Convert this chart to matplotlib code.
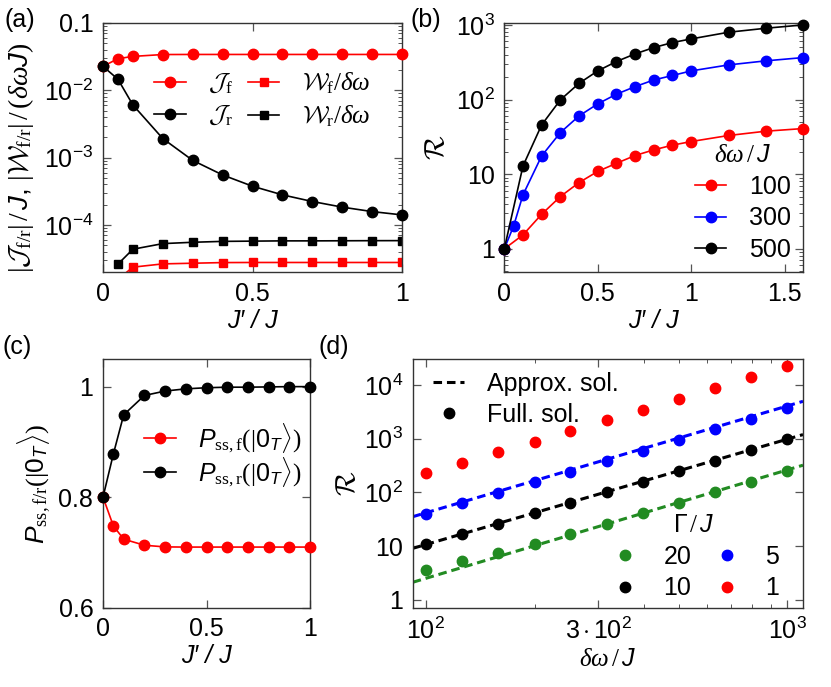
import numpy as np
import matplotlib
matplotlib.use("Agg")
import matplotlib.pyplot as plt
from matplotlib.ticker import LogLocator, NullFormatter

plt.rcParams['font.family'] = ['Liberation Sans', 'DejaVu Sans']
plt.rcParams['font.size'] = 18
plt.rcParams['mathtext.fontset'] = 'custom'
plt.rcParams['mathtext.rm'] = 'Liberation Serif'
plt.rcParams['mathtext.it'] = 'Liberation Serif:italic'
plt.rcParams['mathtext.bf'] = 'Liberation Sans:italic'
plt.rcParams['mathtext.sf'] = 'Liberation Sans'
plt.rcParams['mathtext.cal'] = 'cmsy10'
plt.rcParams['mathtext.fallback'] = 'cm'

# ---- panel (a) data ----
jp_a = [0, 0.05, 0.1, 0.2, 0.3, 0.4, 0.5, 0.6, 0.7, 0.8, 0.9, 1.0]
J_f = [0.0227, 0.0295, 0.0319, 0.0340, 0.0341, 0.0341, 0.0341, 0.0341, 0.0341, 0.0341, 0.0341, 0.0341]
J_r = [0.0227, 0.0146, 0.00606, 0.00192, 0.00091, 0.000553, 0.000376, 0.00028,
       0.000223, 0.000184, 0.000158, 0.000141]
jp_w = [0.05, 0.1, 0.2, 0.3, 0.4, 0.5, 0.6, 0.7, 0.8, 0.9, 1.0]
W_f = [1.56e-5, 2.36e-5, 2.64e-5, 2.70e-5, 2.76e-5, 2.77e-5, 2.77e-5, 2.77e-5, 2.77e-5, 2.77e-5, 2.77e-5]
W_r = [2.62e-5, 4.36e-5, 5.28e-5, 5.53e-5, 5.70e-5, 5.75e-5, 5.80e-5, 5.80e-5, 5.82e-5, 5.84e-5, 5.85e-5]

# ---- panel (b) data ----
jp_b = [0, 0.1, 0.2, 0.3, 0.4, 0.5, 0.6, 0.7, 0.8, 0.9, 1.0, 1.2, 1.4, 1.6]
jp_b_blue = [0, 0.05, 0.1, 0.2, 0.3, 0.4, 0.5, 0.6, 0.7, 0.8, 0.9, 1.0, 1.2, 1.4, 1.6]
R_100 = [1, 1.54, 2.91, 5.02, 7.73, 10.9, 14.0, 17.8, 21.2, 24.5, 27.4, 33.0, 37.7, 40.9]
R_300 = [1, 2.03, 5.29, 17.6, 36.1, 60.4, 87.5, 118, 149, 183, 210, 242, 291, 330, 365]
R_500 = [1, 12.9, 45.8, 99, 165, 242, 323, 409, 497, 580, 649, 797, 902, 1000]

# ---- panel (c) data ----
P_f = [0.8, 0.748, 0.724, 0.713, 0.710, 0.7097, 0.7097, 0.7097, 0.7097, 0.7097, 0.7097, 0.7097]
P_r = [0.8, 0.878, 0.949, 0.984, 0.992, 0.996, 0.998, 0.999, 0.999, 0.9995, 1.0, 1.0]

# ---- panel (d) data ----
dw = [100, 126, 158, 200, 251, 316, 398, 501, 631, 794, 1000]
full_1 = [225, 355, 560, 885, 1397, 2205, 3480, 5570, 8810, 13900, 22300]
full_5 = [39.4, 62.2, 96.8, 153, 241, 381, 601, 950, 1500, 2366, 3795]
full_10 = [10.9, 16.9, 25.6, 40.5, 64, 99.5, 157, 245, 386, 611, 977]
full_20 = [3.58, 5.26, 7.32, 10.7, 16.7, 25.6, 40.5, 64, 99.5, 157, 245]
dw_line = [92, 1104]
approx_5 = [35.2, 4977]
approx_10 = [9.05, 1194]
approx_20 = [2.11, 321]

fig = plt.figure(figsize=(8.31, 6.87), dpi=100)
W, H = 831, 687

def box(x0, x1, y0, y1):
    return [x0 / W, 1 - y1 / H, (x1 - x0) / W, (y1 - y0) / H]

ax_a = fig.add_axes(box(103, 402, 23, 272))
ax_b = fig.add_axes(box(504.3, 803.3, 23, 272))
ax_c = fig.add_axes(box(103, 310, 359, 607.7))
ax_d = fig.add_axes(box(412.7, 803, 359, 608))

for ax in (ax_a, ax_b, ax_c, ax_d):
    ax.tick_params(which='both', direction='in', top=True, right=True, pad=7, color='#555555')
    ax.tick_params(which='major', length=6, width=0.9)
    ax.tick_params(which='minor', length=3, width=0.7)
    for s in ax.spines.values():
        s.set_linewidth(1.0)
        s.set_color('#333333')

Jp = "J\u2032 / J"
lw = 1.2
leg_kw = dict(frameon=False, borderpad=0, handlelength=1.25, handletextpad=0.9, labelspacing=0.3)

# (a)
ax_a.plot(jp_a, J_f, '-o', color='red', lw=lw, ms=7.5, clip_on=False, zorder=3, label=r"$\mathcal{J}_\mathrm{f}$")
ax_a.plot(jp_a, J_r, '-o', color='black', lw=lw, ms=7.5, clip_on=False, zorder=3, label=r"$\mathcal{J}_\mathrm{r}$")
ax_a.plot(jp_w, W_f, '-s', color='red', lw=lw, ms=5.5, label=r"$\mathcal{W}_\mathrm{f}/\delta\omega$")
ax_a.plot(jp_w, W_r, '-s', color='black', lw=lw, ms=5.5, label=r"$\mathcal{W}_\mathrm{r}/\delta\omega$")
ax_a.set_yscale('log')
ax_a.set_xlim(0, 1)
ax_a.set_ylim(2e-5, 0.1)
ax_a.set_xticks([0, 0.5, 1], ['0', '0.5', '1'])
ax_a.set_yticks([1e-4, 1e-3, 1e-2, 0.1],
                [r'$\mathsf{10^{-4}}$', r'$\mathsf{10^{-3}}$', r'$\mathsf{10^{-2}}$', '0.1'])
ax_a.yaxis.set_minor_locator(LogLocator(base=10, subs=np.arange(2, 10)))
ax_a.yaxis.set_minor_formatter(NullFormatter())
ax_a.set_xlabel(Jp, style='italic', labelpad=2)
ax_a.set_ylabel(r"$|\mathcal{J}_\mathrm{f/r}|\,/\,\mathbf{J}$, $|\mathcal{W}_\mathrm{f/r}|\,/\,(\delta\omega \mathbf{J})$",
                fontsize=20)
ax_a.yaxis.set_label_coords(-0.225, 0.46)
ax_a.legend(ncol=2, loc='upper left', bbox_to_anchor=(0.13, 0.86), columnspacing=0.6,
            **leg_kw)

# (b)
ax_b.plot(jp_b, R_100, '-o', color='red', lw=lw, ms=7.5, clip_on=False, zorder=3, label='100')
ax_b.plot(jp_b_blue, R_300, '-o', color='blue', lw=lw, ms=7.5, clip_on=False, zorder=3, label='300')
ax_b.plot(jp_b, R_500, '-o', color='black', lw=lw, ms=7.5, clip_on=False, zorder=3, label='500')
ax_b.set_yscale('log')
ax_b.set_xlim(0, 1.6)
ax_b.set_ylim(0.49, 1060)
ax_b.set_xticks([0, 0.5, 1, 1.5], ['0', '0.5', '1', '1.5'])
ax_b.set_yticks([1, 10, 100, 1000], ['1', '10', r'$\mathsf{10^2}$', r'$\mathsf{10^3}$'])
ax_b.yaxis.set_minor_locator(LogLocator(base=10, subs=np.arange(2, 10)))
ax_b.yaxis.set_minor_formatter(NullFormatter())
ax_b.set_xlabel(Jp, style='italic', labelpad=2)
ax_b.set_ylabel(r"$\mathcal{R}$", fontsize=20)
ax_b.legend(loc='lower right', bbox_to_anchor=(1.0, -0.01),
            title=r"$\delta\omega\,/\,\mathbf{J}$", title_fontsize=18, **leg_kw)

# (c)
ax_c.plot(jp_a, P_f, '-o', color='red', lw=lw, ms=7.5, clip_on=False, zorder=3,
          label=r"$\mathbf{P}_\mathrm{ss,f}(|\mathsf{0}_\mathbf{T}\rangle)$")
ax_c.plot(jp_a, P_r, '-o', color='black', lw=lw, ms=7.5, clip_on=False, zorder=3,
          label=r"$\mathbf{P}_\mathrm{ss,r}(|\mathsf{0}_\mathbf{T}\rangle)$")
ax_c.set_xlim(0, 1)
ax_c.set_ylim(0.6, 1.05)
ax_c.set_xticks([0, 0.5, 1], ['0', '0.5', '1'])
ax_c.set_yticks([0.6, 0.8, 1.0], ['0.6', '0.8', '1'])
ax_c.set_xlabel(Jp, style='italic', labelpad=2)
ax_c.set_ylabel(r"$\mathbf{P}_\mathrm{ss,f/r}(|\mathsf{0}_\mathbf{T}\rangle)$", fontsize=19)
ax_c.legend(loc='upper left', bbox_to_anchor=(0.14, 0.8), frameon=False, borderpad=0,
            handlelength=1.25, handletextpad=0.9, labelspacing=0.0)

# (d)
dash = (0, (2.8, 1.6))
ax_d.plot(dw_line, approx_5, color='blue', lw=2.2, linestyle=dash)
ax_d.plot(dw_line, approx_10, color='black', lw=2.2, linestyle=dash)
ax_d.plot(dw_line, approx_20, color='#228B22', lw=2.2, linestyle=dash)
g20, = ax_d.plot(dw, full_20, 'o', color='#228B22', ms=7.5, zorder=3)
g10, = ax_d.plot(dw, full_10, 'o', color='black', ms=7.5, zorder=3)
g5, = ax_d.plot(dw, full_5, 'o', color='blue', ms=7.5, zorder=3)
g1, = ax_d.plot(dw, full_1, 'o', color='red', ms=7.5, zorder=3)
ax_d.set_xscale('log')
ax_d.set_yscale('log')
ax_d.set_xlim(92, 1104)
ax_d.set_ylim(0.7, 3.06e4)
ax_d.set_xticks([100, 300, 1000], [r'$\mathsf{10^2}$', r'$\mathsf{3\cdot10^2}$', r'$\mathsf{10^3}$'])
ax_d.xaxis.set_minor_locator(LogLocator(base=10, subs=np.arange(2, 10)))
ax_d.xaxis.set_minor_formatter(NullFormatter())
ax_d.set_yticks([1, 10, 100, 1000, 1e4], ['1', '10', r'$\mathsf{10^2}$', r'$\mathsf{10^3}$', r'$\mathsf{10^4}$'])
ax_d.yaxis.set_minor_locator(LogLocator(base=10, subs=np.arange(2, 10)))
ax_d.yaxis.set_minor_formatter(NullFormatter())
ax_d.set_xlabel(r"$\delta\omega\,/\,\mathbf{J}$", labelpad=2)
ax_d.set_ylabel(r"$\mathcal{R}$", fontsize=20, labelpad=2)
h_ap, = ax_d.plot([], [], color='black', lw=2.2, linestyle=dash)
h_fu, = ax_d.plot([], [], 'o', color='black', ms=7.5)
leg1 = ax_d.legend([h_ap, h_fu], ['Approx. sol.', 'Full. sol.'], loc='upper left',
                   bbox_to_anchor=(0.02, 1.0), **leg_kw)
ax_d.add_artist(leg1)
ax_d.legend([g20, g10, g5, g1], ['20', '10', '5', '1'], ncol=2, loc='lower right',
            bbox_to_anchor=(0.97, -0.02), title=r"$\mathsf{\Gamma}\,/\,\mathbf{J}$", title_fontsize=18,
            columnspacing=0.8, **leg_kw)

fig.text(5 / W, 1 - 20 / H, '(a)', va='center', ha='left')
fig.text(410 / W, 1 - 20 / H, '(b)', va='center', ha='left')
fig.text(3 / W, 1 - 347 / H, '(c)', va='center', ha='left')
fig.text(318 / W, 1 - 347 / H, '(d)', va='center', ha='left')

fig.savefig('out.png', dpi=100)
